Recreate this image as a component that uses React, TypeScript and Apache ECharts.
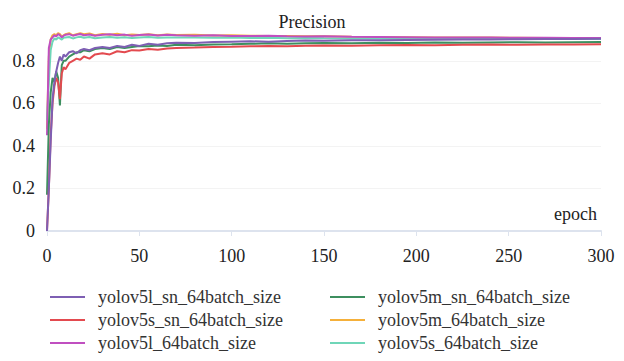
import React, { useEffect, useRef } from "react";
import * as echarts from "echarts";

const epochs = [0, 1, 2, 3, 4, 5, 6, 7, 8, 9, 10, 12, 14, 16, 18, 20, 23, 26, 30, 34, 38, 42, 46, 50, 55, 60, 65, 70, 80, 90, 100, 110, 120, 130, 140, 150, 165, 180, 195, 210, 225, 240, 255, 270, 285, 300];

const yolov5lSn = [0.0, 0.2, 0.42, 0.62, 0.7, 0.75, 0.79, 0.82, 0.8, 0.83, 0.82, 0.84, 0.845, 0.835, 0.85, 0.855, 0.85, 0.86, 0.865, 0.86, 0.87, 0.865, 0.875, 0.87, 0.88, 0.875, 0.882, 0.885, 0.884, 0.888, 0.89, 0.892, 0.889, 0.893, 0.895, 0.894, 0.896, 0.897, 0.898, 0.899, 0.9, 0.9, 0.901, 0.902, 0.902, 0.903];
const yolov5sSn = [0.0, 0.2, 0.45, 0.6, 0.68, 0.72, 0.7, 0.62, 0.74, 0.77, 0.76, 0.79, 0.8, 0.81, 0.805, 0.82, 0.81, 0.83, 0.835, 0.83, 0.845, 0.84, 0.85, 0.848, 0.855, 0.852, 0.858, 0.86, 0.862, 0.865, 0.866, 0.868, 0.87, 0.868, 0.871, 0.872, 0.871, 0.873, 0.874, 0.873, 0.875, 0.876, 0.875, 0.877, 0.876, 0.878];
const yolov5l = [0.45, 0.86, 0.9, 0.91, 0.92, 0.915, 0.925, 0.92, 0.91, 0.918, 0.922, 0.925, 0.918, 0.922, 0.926, 0.92, 0.924, 0.918, 0.922, 0.925, 0.92, 0.923, 0.918, 0.921, 0.924, 0.919, 0.922, 0.92, 0.918, 0.92, 0.917, 0.916, 0.918, 0.915, 0.914, 0.915, 0.913, 0.912, 0.911, 0.91, 0.91, 0.909, 0.908, 0.908, 0.907, 0.907];
const yolov5mSn = [0.17, 0.5, 0.65, 0.72, 0.7, 0.75, 0.72, 0.59, 0.78, 0.8, 0.8, 0.82, 0.83, 0.84, 0.84, 0.85, 0.845, 0.855, 0.86, 0.855, 0.865, 0.86, 0.865, 0.87, 0.868, 0.872, 0.87, 0.875, 0.873, 0.877, 0.878, 0.88, 0.882, 0.88, 0.883, 0.884, 0.883, 0.885, 0.884, 0.886, 0.885, 0.886, 0.887, 0.886, 0.887, 0.888];
const yolov5m = [0.48, 0.82, 0.9, 0.92, 0.925, 0.92, 0.93, 0.925, 0.915, 0.92, 0.925, 0.93, 0.92, 0.925, 0.93, 0.925, 0.928, 0.92, 0.926, 0.922, 0.927, 0.92, 0.924, 0.921, 0.925, 0.92, 0.923, 0.921, 0.922, 0.919, 0.92, 0.918, 0.917, 0.916, 0.915, 0.915, 0.913, 0.912, 0.911, 0.91, 0.909, 0.909, 0.908, 0.907, 0.907, 0.906];
const yolov5s = [0.52, 0.7, 0.85, 0.89, 0.905, 0.9, 0.91, 0.905, 0.9, 0.908, 0.91, 0.912, 0.905, 0.91, 0.913, 0.908, 0.912, 0.906, 0.91, 0.912, 0.908, 0.911, 0.907, 0.91, 0.912, 0.908, 0.91, 0.909, 0.91, 0.908, 0.909, 0.907, 0.908, 0.906, 0.907, 0.906, 0.905, 0.905, 0.904, 0.904, 0.903, 0.903, 0.903, 0.902, 0.902, 0.902];

const seriesNames = [
  "yolov5l_sn_64batch_size",
  "yolov5s_sn_64batch_size",
  "yolov5l_64batch_size",
  "yolov5m_sn_64batch_size",
  "yolov5m_64batch_size",
  "yolov5s_64batch_size",
];
const seriesValues = [yolov5lSn, yolov5sSn, yolov5l, yolov5mSn, yolov5m, yolov5s];
const seriesColors = ["#7e5fb3", "#e34a4f", "#c04fc0", "#3d8f5f", "#f5b03a", "#6fd6b8"];

const FONT = "Times New Roman, Liberation Serif, DejaVu Serif, serif";

export default function App() {
  const ref = useRef<HTMLDivElement>(null);
  useEffect(() => {
    if (!ref.current) return;
    const chart = echarts.init(ref.current, undefined, { renderer: "svg" });
    const drawOrder = [4, 5, 2, 3, 1, 0];
    const series = drawOrder.map((i) => ({
      name: seriesNames[i],
      type: "line",
      symbol: "none",
      color: seriesColors[i],
      lineStyle: { width: 2, color: seriesColors[i] },
      data: epochs.map((e, k) => [e, seriesValues[i][k]]),
    }));
    const legendCommon = {
      orient: "vertical",
      icon: "rect",
      itemWidth: 35,
      itemHeight: 2,
      itemGap: 3,
      padding: 0,
      textStyle: { fontFamily: FONT, fontSize: 18, lineHeight: 20, color: "#333", padding: [0, 0, 0, 8] },
    };
    chart.setOption({
      animation: false,
      textStyle: { fontFamily: FONT },
      title: {
        text: "Precision",
        left: "center",
        top: 8,
        textStyle: { fontFamily: FONT, fontSize: 18, fontWeight: "normal", color: "#222" },
      },
      legend: [
        { ...legendCommon, left: 50, top: 287, data: seriesNames.slice(0, 3) },
        { ...legendCommon, left: 330, top: 287, data: seriesNames.slice(3, 6) },
      ],
      grid: { left: 47, right: 23, top: 31, bottom: 130 },
      xAxis: {
        type: "value",
        min: 0,
        max: 300,
        interval: 50,
        name: "epoch",
        nameLocation: "end",
        nameGap: -4,
        nameTextStyle: {
          fontFamily: FONT,
          fontSize: 18,
          color: "#222",
          align: "right",
          verticalAlign: "bottom",
          padding: [0, 0, 8, 0],
        },
        axisLine: { lineStyle: { color: "#dde3ee", width: 2 } },
        axisTick: { show: true, lineStyle: { color: "#dde3ee" } },
        splitLine: { show: false },
        axisLabel: { fontFamily: FONT, fontSize: 18, color: "#222", margin: 16 },
      },
      yAxis: {
        type: "value",
        min: 0,
        max: 0.94,
        interval: 0.2,
        axisLine: { show: false },
        axisTick: { show: false },
        splitLine: { show: true, showMaxLine: false, lineStyle: { color: "#f3f3f3" } },
        axisLabel: { fontFamily: FONT, fontSize: 18, color: "#222", margin: 12, showMaxLabel: false },
      },
      series,
    });
    return () => chart.dispose();
  }, []);
  return (
    <div
      ref={ref}
      style={{ position: "absolute", left: 0, top: 0, width: 624, height: 361 }}
    />
  );
}
